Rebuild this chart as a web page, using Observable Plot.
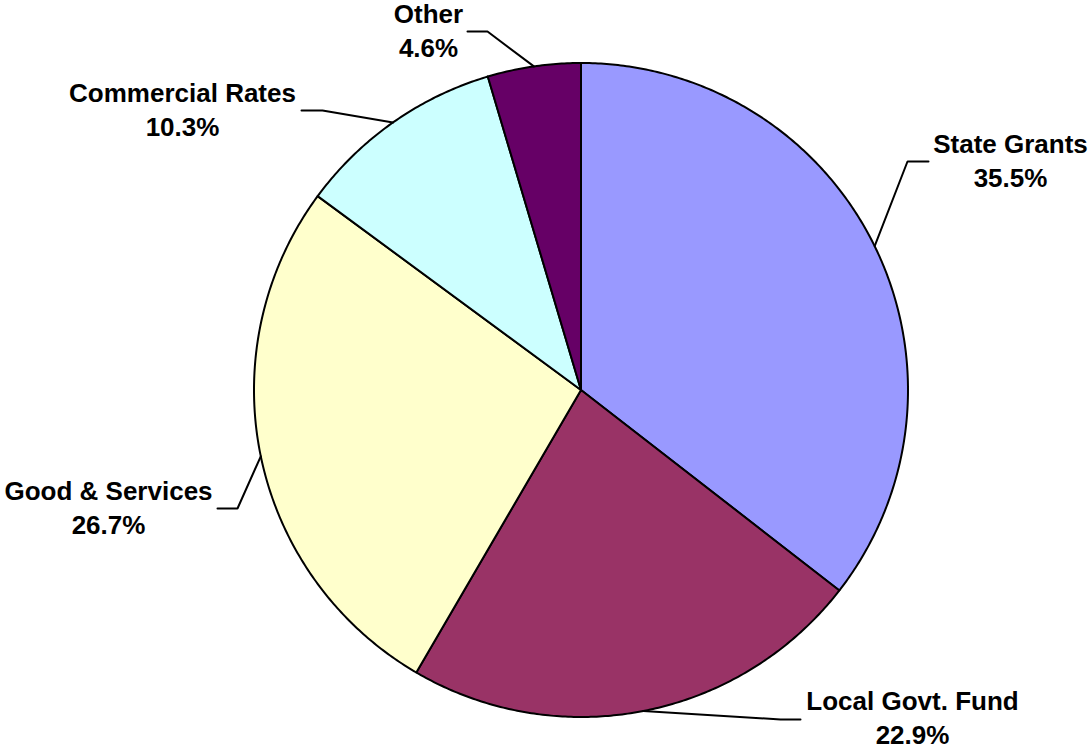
<!DOCTYPE html>
<html>
<head>
<meta charset="utf-8">
<script src="https://cdn.jsdelivr.net/npm/d3@7"></script>
<script src="https://cdn.jsdelivr.net/npm/@observablehq/plot@0.6"></script>
<style>
  html, body { margin: 0; padding: 0; background: #ffffff; }
  #chart svg { display: block; background: #ffffff; }
</style>
</head>
<body>
<div id="chart"></div>
<script>
// ---- data ----
const categories = ["State Grants", "Local Govt. Fund", "Good & Services", "Commercial Rates", "Other"];
const shares = [35.5, 22.9, 26.7, 10.3, 4.6];
const sliceColors = ["#9999FF", "#993366", "#FFFFCC", "#CCFFFF", "#660066"];

// ---- layout (pixels) ----
const W = 1089, H = 751;
const CX = 580.5, CY = 389.5, R = 327;
const FONT = 26, LINE = 34;
// label text centre x, first-line baseline, leader y, elbow x, leader outer end x
const labelCx     = [1010, 912, 108, 182, 428];
const labelBase   = [153, 710, 500, 102, 23];
const leaderY     = [161, 719, 508, 110, 31];
const leaderElbow = [907, 780, 237, 322, 487];
const leaderEnd   = [928, 800, 217, 301, 467];

// pixel -> unit coordinates (pie radius = 1, y up)
const ux = px => (px - CX) / R;
const uy = py => (CY - py) / R;

// slice polygons from the values
const arcs = d3.pie().sort(null).value(d => d)(shares);
const slicePts = [];
arcs.forEach((a, i) => {
  const name = categories[i];
  slicePts.push({name, x: 0, y: 0});
  const steps = Math.max(2, Math.ceil((a.endAngle - a.startAngle) / (Math.PI / 360)));
  for (let k = 0; k <= steps; k++) {
    const t = a.startAngle + (a.endAngle - a.startAngle) * k / steps;
    slicePts.push({name, x: Math.sin(t), y: Math.cos(t)});
  }
  slicePts.push({name, x: 0, y: 0});
});

// leader lines: edge point at mid-angle -> elbow -> outer end
const leaderPts = [];
arcs.forEach((a, i) => {
  const name = categories[i];
  const m = (a.startAngle + a.endAngle) / 2;
  leaderPts.push({name, x: Math.sin(m), y: Math.cos(m)});
  leaderPts.push({name, x: ux(leaderElbow[i]), y: uy(leaderY[i])});
  leaderPts.push({name, x: ux(leaderEnd[i]), y: uy(leaderY[i])});
});

const labels = categories.map((c, i) => ({
  text: `${c}\n${shares[i].toFixed(1)}%`,
  x: ux(labelCx[i]),
  y: uy(labelBase[i] - 0.71 * LINE)
}));

const chart = Plot.plot({
  width: W,
  height: H,
  margin: 0,
  x: {domain: [ux(0), ux(W)], axis: null},
  y: {domain: [uy(H), uy(0)], axis: null},
  color: {domain: categories, range: sliceColors},
  style: {background: "#ffffff"},
  marks: [
    Plot.line(slicePts, {
      x: "x", y: "y", z: "name", fill: "name",
      stroke: "#000000", strokeWidth: 2, strokeLinejoin: "round"
    }),
    Plot.line(leaderPts, {
      x: "x", y: "y", z: "name",
      stroke: "#000000", strokeWidth: 2, strokeLinejoin: "miter"
    }),
    Plot.text(labels, {
      x: "x", y: "y", text: "text",
      fontSize: FONT, fontWeight: "bold",
      fontFamily: "Arial, 'Liberation Sans', sans-serif",
      lineHeight: LINE / FONT, lineAnchor: "top",
      textAnchor: "middle", fill: "#000000"
    })
  ]
});
document.getElementById("chart").appendChild(chart);
</script>
</body>
</html>
